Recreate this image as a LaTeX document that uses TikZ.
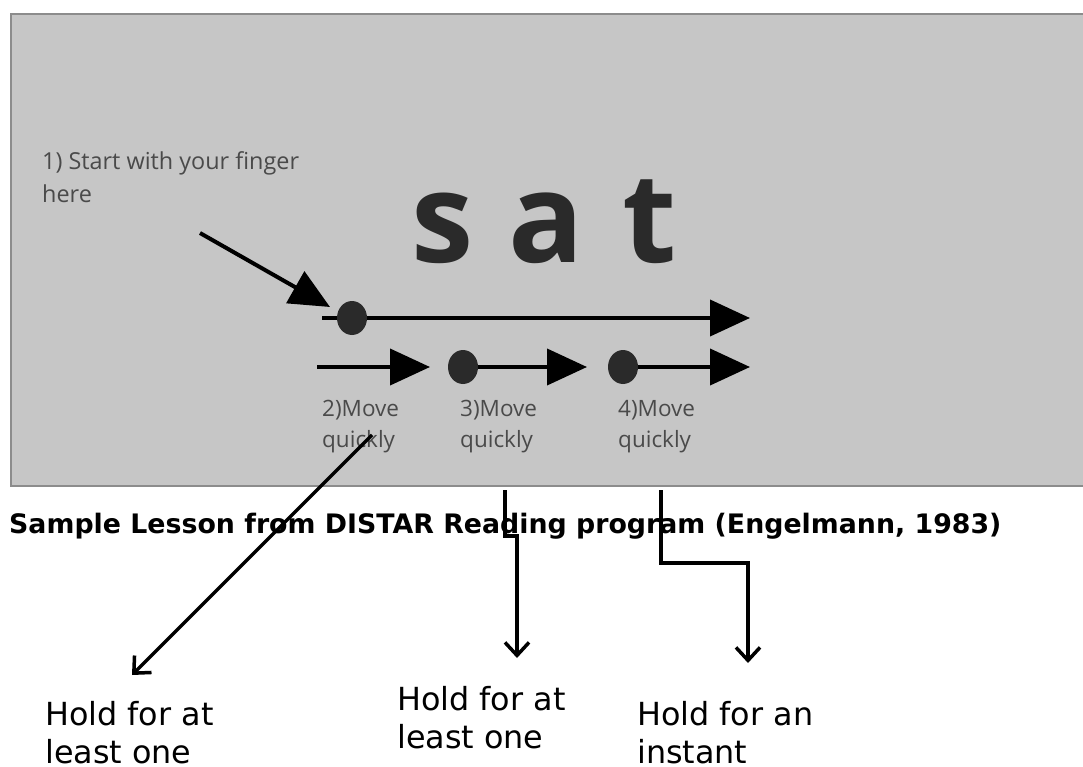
\documentclass[tikz,border=0pt]{standalone}
\usepackage{fontspec}
\setmainfont{DejaVu Sans}
\newfontfamily\opensans{Open Sans}
\usetikzlibrary{arrows.meta, shapes.geometric}

\definecolor{panelgray}{HTML}{C6C6C6}
\definecolor{paneledge}{HTML}{8C8C8C}
\definecolor{hintink}{HTML}{4A4A4A}
\definecolor{letterink}{HTML}{2A2A2A}

\begin{document}
\begin{tikzpicture}[x=1pt, y=-1pt,
        hint/.style={font=\opensans\fontsize{22.5}{31}\selectfont, text=hintink, align=left, anchor=north west, inner sep=0pt},
        hold/.style={font=\fontsize{31.8}{38}\selectfont, align=left, anchor=north west, inner sep=0pt},
        dot/.style={ellipse, fill=letterink, minimum width=30pt, minimum height=34pt, inner sep=0pt},
        sweep/.style={line width=4pt, -{Triangle[length=40pt, width=36pt]}},
        pointer/.style={line width=3.5pt, -{Straight Barb[length=13pt, width=24pt, line width=3.5pt]}}]
        \useasboundingbox (0, 0) rectangle (1083, 767);

        \filldraw [fill=panelgray, draw=paneledge, line width=2pt] (11, 14) rectangle (1095, 486);

        \node [hint, font=\opensans\fontsize{23.4}{33}\selectfont] (start) at (42, 151) {1) Start with your finger\\here};
        \node [font=\opensans\bfseries\fontsize{125}{125}\selectfont, text=letterink, anchor=base west, inner sep=0pt] (word) at (411, 262) {s\hspace{3pt} a\hspace{6pt} t};

        % finger sweeps under the word
        \coordinate (finger) at (200, 233);
        \coordinate (touch) at (330, 307);
        \draw [sweep] (finger) -- (touch);

        \coordinate (slow0) at (322, 318);
        \coordinate (slow1) at (750, 318);
        \draw [sweep] (slow0) -- (slow1);
        \node [dot] (first) at (352, 318) {};

        \coordinate (fast0) at (317, 367);
        \coordinate (fast1) at (430, 367);
        \coordinate (fast2) at (587, 367);
        \coordinate (fast3) at (750, 367);
        \node [dot] (second) at (463, 367) {};
        \node [dot] (third) at (623, 367) {};
        \draw [sweep] (fast0) -- (fast1);
        \draw [sweep] (second) -- (fast2);
        \draw [sweep] (third) -- (fast3);

        \node [hint] (move2) at (322, 400) {2)Move\\quickly};
        \node [hint] (move3) at (460, 400) {3)Move\\quickly};
        \node [hint] (move4) at (618, 400) {4)Move\\quickly};

        \node [font=\bfseries\fontsize{26.8}{30}\selectfont, anchor=base west, inner sep=0pt] (caption) at (9, 533) {Sample Lesson from DISTAR Reading program (Engelmann, 1983)};

        \node [hold] (hold1) at (45, 701) {Hold for at\\least one};
        \node [hold] (hold2) at (397, 686) {Hold for at\\least one};
        \node [hold] (hold3) at (637, 701) {Hold for an\\instant};

        % pointers from the moves to the hold times
        \coordinate (p1a) at (372, 435);
        \coordinate (p1b) at (132, 675);
        \draw [pointer] (p1a) -- (p1b);

        \coordinate (p2a) at (505, 490);
        \coordinate (p2b) at (517, 658);
        \draw [pointer] (p2a) -- (505, 536) -- (517, 536) -- (p2b);

        \coordinate (p3a) at (661, 490);
        \coordinate (p3b) at (748, 663);
        \draw [pointer] (p3a) |- (748, 563) -- (p3b);
    \end{tikzpicture}
\end{document}
